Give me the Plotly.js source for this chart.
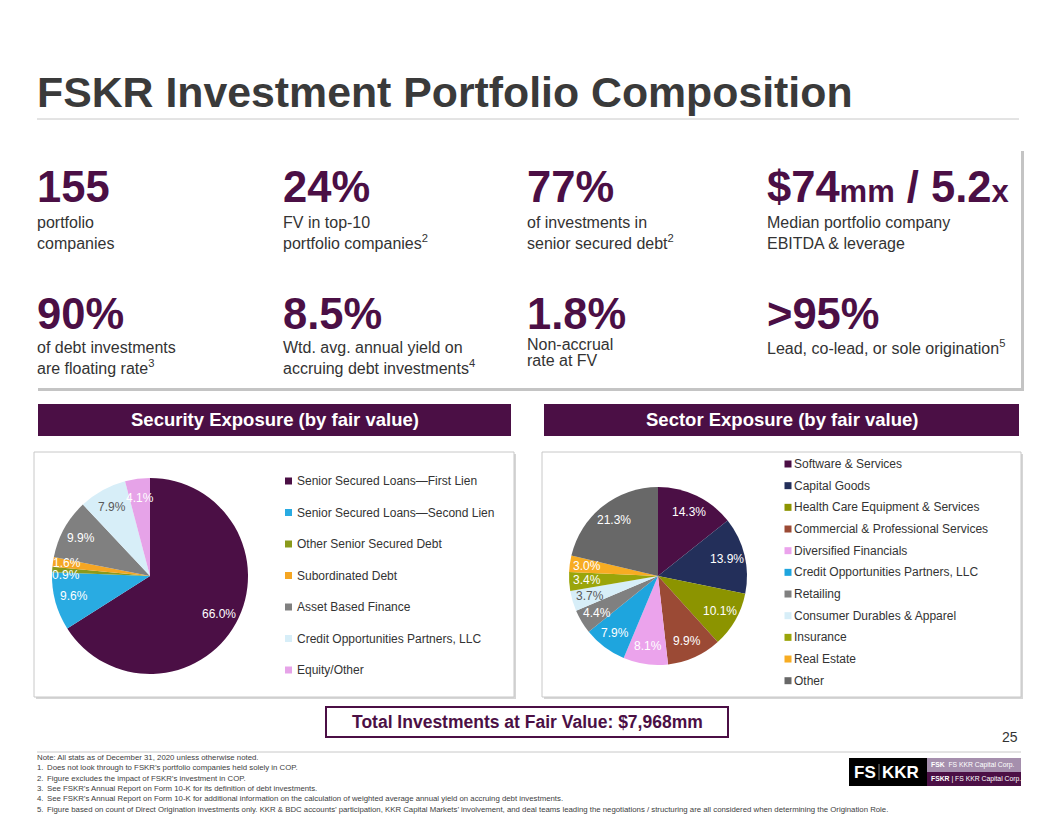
<!DOCTYPE html>
<html><head><meta charset="utf-8">
<script src="https://cdn.plot.ly/plotly-3.0.1.min.js"></script>
<style>html,body{margin:0;padding:0;background:#fff;}#chart{width:1056px;height:816px;}</style>
</head><body><div id="chart"></div>
<script>
// ---------- DATA ----------
const securityLabels = ['Senior Secured Loans\u2014First Lien','Senior Secured Loans\u2014Second Lien','Other Senior Secured Debt','Subordinated Debt','Asset Based Finance','Credit Opportunities Partners, LLC','Equity/Other'];
const securityValues = [66.0, 9.6, 0.9, 1.6, 9.9, 7.9, 4.1];
const sectorLabels = ['Software & Services','Capital Goods','Health Care Equipment & Services','Commercial & Professional Services','Diversified Financials','Credit Opportunities Partners, LLC','Retailing','Consumer Durables & Apparel','Insurance','Real Estate','Other'];
const sectorValues = [14.3, 13.9, 10.1, 9.9, 8.1, 7.9, 4.4, 3.7, 3.4, 3.0, 21.3];
const statNumbers = ['155','24%','77%','$74<span style="font-size:31px">mm</span> / 5.2<span style="font-size:31px">x</span>','90%','8.5%','1.8%','>95%'];
const statTexts = ['portfolio<br>companies','FV in top-10<br>portfolio companies<sup>2</sup>','of investments in<br>senior secured debt<sup>2</sup>','Median portfolio company<br>EBITDA & leverage','of debt investments<br>are floating rate<sup>3</sup>','Wtd. avg. annual yield on<br>accruing debt investments<sup>4</sup>','Non-accrual<br>rate at FV','Lead, co-lead, or sole origination<sup>5</sup>'];
const footNums = ['','1.','2.','3.','4.','5.'];
const footTexts = ['Note: All stats as of December 31, 2020 unless otherwise noted.',
 'Does not look through to FSKR\u2019s portfolio companies held solely in COP.',
 'Figure excludes the impact of FSKR\u2019s investment in COP.',
 'See FSKR\u2019s Annual Report on Form 10-K for its definition of debt investments.',
 'See FSKR\u2019s Annual Report on Form 10-K for additional information on the calculation of weighted average annual yield on accruing debt investments.',
 'Figure based on count of Direct Origination investments only. KKR & BDC accounts\u2019 participation, KKR Capital Markets\u2019 involvement, and deal teams leading the negotiations / structuring are all considered when determining the Origination Role.'];
const titleText = 'FSKR Investment Portfolio Composition';
const leftHeader = 'Security Exposure (by fair value)';
const rightHeader = 'Sector Exposure (by fair value)';
const totalText = 'Total Investments at Fair Value: $7,968mm';
const pageNum = '25';

// ---------- STYLE ----------
const PURPLE = '#4b0f45';
const secColors = ['#4b0f45','#29abe2','#8a9a1b','#f5a623','#808080','#d7eef8','#e6a3e8'];
const secText = ['#fff','#fff','#fff','#fff','#fff','#595959','#fff'];
const sectColors = ['#4b0f45','#232f5a','#8c9400','#9b4a35','#eba3ec','#1ea5de','#808080','#d7eef8','#9aa50a','#f7ac22','#686868'];
const sectText = ['#fff','#fff','#fff','#fff','#fff','#fff','#fff','#595959','#fff','#fff','#fff'];
const FONT = '"Liberation Sans", Arial, sans-serif';
const W = 1056, H = 816;
const X = p => p / W, Y = p => 1 - p / H;

const shapes = [], annotations = [];
function rect(x0, y0, x1, y1, fill, line, lw, layer) {
  shapes.push({type:'rect', xref:'paper', yref:'paper', x0:X(x0), x1:X(x1), y0:Y(y1), y1:Y(y0),
    fillcolor: fill, line:{color: line || fill, width: lw || 0}, layer: layer || 'below'});
}
function hline(x0, x1, y, color, w) {
  shapes.push({type:'line', xref:'paper', yref:'paper', x0:X(x0), x1:X(x1), y0:Y(y), y1:Y(y), line:{color, width:w||1}, layer:'below'});
}
function ann(text, x, y, size, color, opts) {
  annotations.push(Object.assign({xref:'paper', yref:'paper', x:X(x), y:Y(y), text, showarrow:false,
    xanchor:'left', yanchor:'middle', align:'left', font:{family:FONT, size, color}}, opts || {}));
}

// Title
ann('<b>' + titleText + '</b>', 35, 92, 42.8, '#3a3a3a');
hline(37, 1019, 119, '#c8c8c8', 1);

// Stats box
rect(38, 151, 1024, 391, '#c4c4c4');
rect(35, 148, 1021, 388, '#ffffff');
const statCols = [37, 283, 527, 767];
statNumbers.forEach((t, i) => {
  const col = statCols[i % 4], row = Math.floor(i / 4);
  ann('<b>' + t + '</b>', col - 2, row ? 314 : 187, 43.5, PURPLE);
});
statTexts.forEach((t, i) => {
  const col = statCols[i % 4] - 2, row = Math.floor(i / 4);
  if (i === 6) {
    const parts = t.split('<br>');
    ann(parts[0], col, 344, 16, '#333333');
    ann(parts[1], col, 360, 16, '#333333');
  } else if (i === 7) {
    ann(t, col, 347, 16, '#333333');
  } else {
    ann(t, col, row ? 357.5 : 232.5, 16, '#333333');
  }
});

// Section headers
rect(38, 404, 511, 436, PURPLE);
rect(544, 404, 1019, 436, PURPLE);
ann('<b>' + leftHeader + '</b>', 274.5, 420, 18.5, '#ffffff', {xanchor:'center'});
ann('<b>' + rightHeader + '</b>', 781.5, 420, 18.5, '#ffffff', {xanchor:'center'});

// Chart boxes
rect(36, 454, 516, 699, '#d6d6d6');
rect(34, 452, 514, 697, '#ffffff', '#c8c8c8', 1);
rect(544, 454, 1023, 699, '#d6d6d6');
rect(542, 452, 1021, 697, '#ffffff', '#c8c8c8', 1);

// Legends (manual, from data arrays)
securityLabels.forEach((l, i) => {
  const y = 481 + i * 31.5;
  rect(285, y - 3.5, 292, y + 3.5, secColors[i], null, 0, 'above');
  ann(l, 295, y, 12, '#333333');
});
sectorLabels.forEach((l, i) => {
  const y = 464 + i * 21.67;
  rect(784.5, y - 3.5, 791.5, y + 3.5, sectColors[i], null, 0, 'above');
  ann(l, 792, y, 12, '#333333');
});

// Pie geometry
const L = {cx:150, cy:576, r:98};
const R = {cx:658, cy:576, r:89};

// Data labels placed near the rim of each slice (computed from the values)
function pieLabels(values, geo, colors, kBig, kSmall, shifts) {
  const total = values.reduce((a, b) => a + b, 0);
  let cum = 0;
  values.forEach((v, i) => {
    const mid = (cum + v / 2) / total * 2 * Math.PI; cum += v;
    const k = v < 2 ? kSmall : kBig;
    const px = geo.cx + geo.r * k * Math.sin(mid), py = geo.cy - geo.r * k * Math.cos(mid);
    ann(v.toFixed(1) + '%', px, py + (shifts[i] || 0), 12, colors[i], {xanchor:'center'});
  });
}
pieLabels(securityValues, L, secText, 0.8, 0.86, {2: 5, 3: -1});
pieLabels(sectorValues, R, sectText, 0.8, 0.8, {});

// Total box
rect(326, 707, 728, 737, '#ffffff', PURPLE, 2);
ann('<b>' + totalText + '</b>', 527, 722, 17.5, PURPLE, {xanchor:'center'});

// Page number & separator
ann(pageNum, 1020, 737, 14, '#333333', {xanchor:'right'});
hline(37, 1021, 752, '#c8c8c8', 1);

// Footnotes
footTexts.forEach((t, i) => {
  const y = 757.5 + i * 10.3;
  if (footNums[i]) {
    ann(footNums[i], 35, y, 7.8, '#404040');
    ann(t, 45, y, 7.8, '#404040');
  } else {
    ann(t, 35, y, 7.8, '#404040');
  }
});

// Logo
rect(849, 758, 927, 786, '#000000', null, 0, 'above');
rect(927, 758, 1021, 772, '#a58fad', null, 0, 'above');
rect(927, 772, 1021, 786, PURPLE, null, 0, 'above');
shapes.push({type:'line', xref:'paper', yref:'paper', x0:X(879), x1:X(879), y0:Y(764), y1:Y(780), line:{color:'#777', width:1}, layer:'above'});
ann('<b>FS</b>', 878, 772, 17, '#ffffff', {xanchor:'right'});
ann('<b>KKR</b>', 880, 772, 17, '#ffffff');
ann('<b>FSK</b>  FS KKR Capital Corp.', 929, 765, 6.8, '#ffffff');
ann('<b>FSKR</b> | FS KKR Capital Corp. II', 929, 779, 6.8, '#ffffff');

// ---------- TRACES ----------
const traces = [
  {type:'pie', labels:securityLabels, values:securityValues, sort:false, direction:'clockwise', rotation:0,
   domain:{x:[X(L.cx - L.r), X(L.cx + L.r)], y:[Y(L.cy + L.r), Y(L.cy - L.r)]},
   marker:{colors:secColors, line:{width:0}}, textinfo:'none', showlegend:false, hoverinfo:'label+value'},
  {type:'pie', labels:sectorLabels, values:sectorValues, sort:false, direction:'clockwise', rotation:0,
   domain:{x:[X(R.cx - R.r), X(R.cx + R.r)], y:[Y(R.cy + R.r), Y(R.cy - R.r)]},
   marker:{colors:sectColors, line:{width:0}}, textinfo:'none', showlegend:false, hoverinfo:'label+value'}
];

const layout = {width:W, height:H, margin:{l:0, r:0, t:0, b:0}, paper_bgcolor:'#ffffff',
  showlegend:false, shapes, annotations, font:{family:FONT}};
Plotly.newPlot('chart', traces, layout, {displayModeBar:false, staticPlot:true});
</script></body></html>
